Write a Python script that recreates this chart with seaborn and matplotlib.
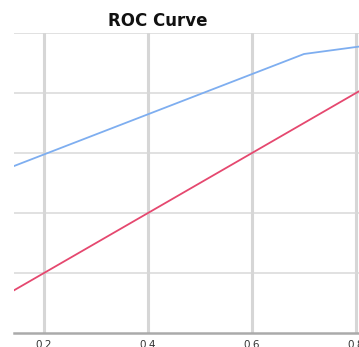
import matplotlib
matplotlib.use("Agg")
import matplotlib.pyplot as plt
import seaborn as sns
import pandas as pd

# data
fpr = [0.0, 0.14, 0.7, 1.0]
tpr = [0.0, 0.555, 0.93, 1.0]
diag_x = [0.0, 1.0]
diag_y = [0.0, 1.0]
x_ticks = [0.2, 0.4, 0.6, 0.8, 1.0]
x_tick_labels = ["0.2", "0.4", "0.6", "0.8", "1.0"]
y_ticks = [0.2, 0.4, 0.6, 0.8, 1.0]

sns.set_style("white")
plt.rcParams['font.family'] = ['DejaVu Sans']

W, H = 359, 347
fig = plt.figure(figsize=(W / 100, H / 100), dpi=100)
left_px, right_px, bottom_px, top_px = 14, 460, 333, 33
ax = fig.add_axes([left_px / W, (H - bottom_px) / H,
                   (right_px - left_px) / W, (bottom_px - top_px) / H])

roc_df = pd.DataFrame({"fpr": fpr, "tpr": tpr})
diag_df = pd.DataFrame({"x": diag_x, "y": diag_y})
sns.lineplot(data=roc_df, x="fpr", y="tpr", ax=ax, color="#7eaef0",
             linewidth=1.3, sort=False, estimator=None)
sns.lineplot(data=diag_df, x="x", y="y", ax=ax, color="#e5486f",
             linewidth=1.3, sort=False, estimator=None)

ax.set_xlim(0.1423, 1.0)
ax.set_ylim(0.0, 1.0)
ax.set_xticks(x_ticks)
ax.set_xticklabels(x_tick_labels)
ax.set_yticks(y_ticks)
ax.set_yticklabels([])
ax.set_xlabel("")
ax.set_ylabel("")
ax.tick_params(axis="x", length=0, pad=5, labelsize=7.5, colors="#333333")
ax.tick_params(axis="y", length=0)
ax.xaxis.grid(True, color="#d6d6d6", linewidth=2.2)
ax.yaxis.grid(True, color="#d8d8d8", linewidth=1.1)
ax.set_axisbelow(True)
for s in ["left", "right", "top"]:
    ax.spines[s].set_visible(False)
ax.spines["bottom"].set_color("#aaaaaa")
ax.spines["bottom"].set_linewidth(1.8)

fig.text(158 / W, 1 - 21 / H, "ROC Curve", ha="center", va="center",
         fontsize=12, fontweight="bold", color="#111111")

fig.savefig("out.png", dpi=100)
